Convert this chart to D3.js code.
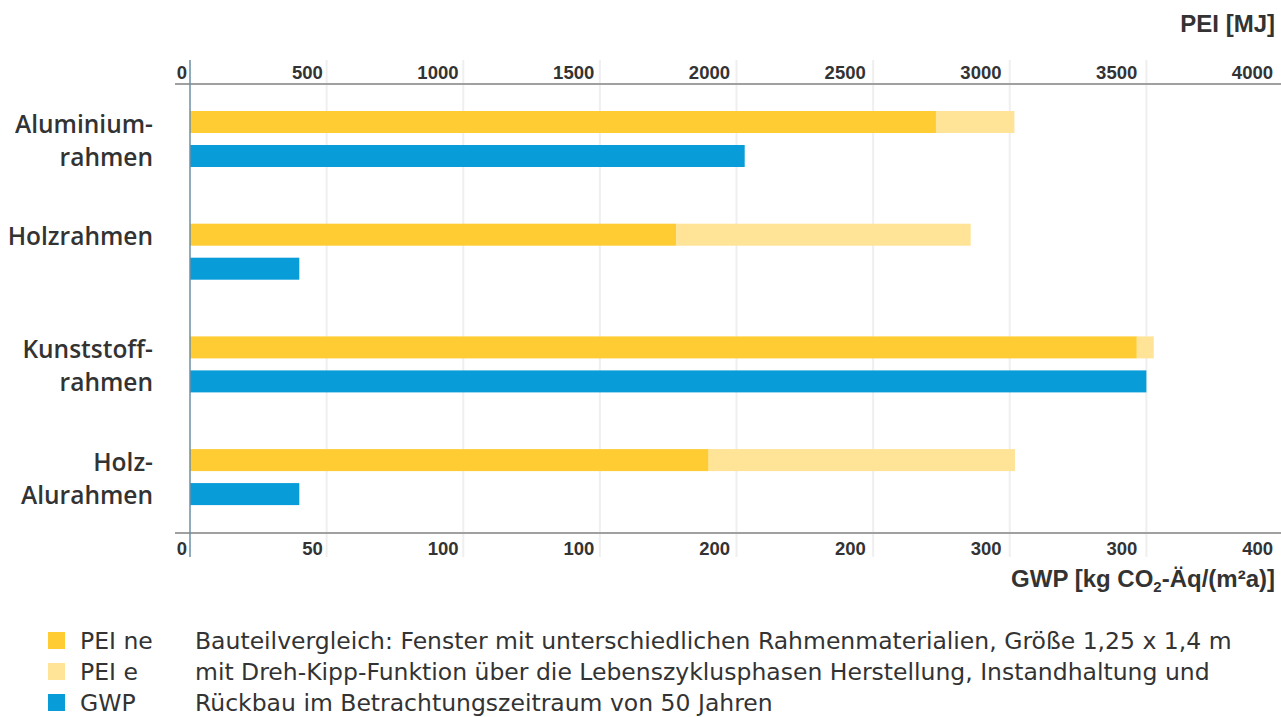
<!DOCTYPE html>
<html>
<head>
<meta charset="utf-8">
<script src="https://cdn.jsdelivr.net/npm/d3@7"></script>
<style>
  html, body { margin: 0; padding: 0; background: #fff; }
  svg { display: block; }
  text { font-family: "Open Sans", "Liberation Sans", Arial, sans-serif; fill: #333; }
  text.desc { font-family: "DejaVu Sans", "Open Sans", sans-serif; }
  text.num { font-family: "Liberation Sans", Arial, sans-serif; font-weight: bold; }
</style>
</head>
<body>
<svg id="chart" width="1281" height="717"></svg>
<script>
// ---- data ----
const categories = ["Aluminiumrahmen", "Holzrahmen", "Kunststoffrahmen", "Holz-Alurahmen"];
const categoryLines = [["Aluminium-", "rahmen"], ["Holzrahmen"], ["Kunststoff-", "rahmen"], ["Holz-", "Alurahmen"]];
const peiNe = [2730, 1780, 3465, 1898];   // MJ, non-renewable
const peiE  = [287, 1077, 62, 1121];      // MJ, renewable
const gwp   = [203, 40, 350, 40];         // kg CO2-Äq/(m²a)
const peiTicks = [0, 500, 1000, 1500, 2000, 2500, 3000, 3500, 4000];
const gwpTickLabels = ["0", "50", "100", "100", "200", "200", "300", "300", "400"];
const legendItems = ["PEI ne", "PEI e", "GWP"];
const descriptionLines = [
  "Bauteilvergleich: Fenster mit unterschiedlichen Rahmenmaterialien, Größe 1,25 x 1,4 m",
  "mit Dreh-Kipp-Funktion über die Lebenszyklusphasen Herstellung, Instandhaltung und",
  "Rückbau im Betrachtungszeitraum von 50 Jahren"
];

// ---- styles ----
const colNe = "#ffcc33", colE = "#ffe396", colGwp = "#089cd8";
const legendColors = [colNe, colE, colGwp];

const svg = d3.select("#chart");

const x0 = 190, x1 = 1283;
const xPei = d3.scaleLinear().domain([0, 4000]).range([x0, x1]);
const xGwp = d3.scaleLinear().domain([0, 400]).range([x0, x1]);
const xLab = d3.scaleLinear().domain([0, 4000]).range([187, 1273]);

const yCat = d3.scaleBand().domain(categories).range([111, 505.1]).paddingInner(0.503).paddingOuter(0);
const ySub = d3.scaleBand().domain(["pei", "gwp"]).range([0, 56]).paddingInner(12 / 34).paddingOuter(0);

// gridlines
svg.append("g").selectAll("line").data(peiTicks.slice(1)).join("line")
  .attr("x1", d => xPei(d)).attr("x2", d => xPei(d))
  .attr("y1", 60).attr("y2", 557)
  .attr("stroke", "#efefef").attr("stroke-width", 2);

// horizontal axis lines
svg.append("line").attr("x1", 175).attr("x2", 1281).attr("y1", 84).attr("y2", 84)
  .attr("stroke", "#a0a0a0").attr("stroke-width", 2);
svg.append("line").attr("x1", 175).attr("x2", 1281).attr("y1", 533).attr("y2", 533)
  .attr("stroke", "#a0a0a0").attr("stroke-width", 2);

// bars
const g = svg.append("g");
categories.forEach((c, i) => {
  const yb = yCat(c);
  g.append("rect").attr("x", xPei(0)).attr("y", yb + ySub("pei"))
    .attr("width", xPei(peiNe[i]) - xPei(0)).attr("height", ySub.bandwidth()).attr("fill", colNe);
  g.append("rect").attr("x", xPei(peiNe[i])).attr("y", yb + ySub("pei"))
    .attr("width", xPei(peiNe[i] + peiE[i]) - xPei(peiNe[i])).attr("height", ySub.bandwidth()).attr("fill", colE);
  g.append("rect").attr("x", xGwp(0)).attr("y", yb + ySub("gwp"))
    .attr("width", xGwp(gwp[i]) - xGwp(0)).attr("height", ySub.bandwidth()).attr("fill", colGwp);
});

// vertical axis line
svg.append("line").attr("x1", x0).attr("x2", x0).attr("y1", 60).attr("y2", 557)
  .attr("stroke", "#6b8fa6").attr("stroke-width", 1.5);

// category labels
categories.forEach((c, i) => {
  const yb = yCat(c);
  categoryLines[i].forEach((ln, k) => {
    svg.append("text").attr("x", 153).attr("y", yb + ySub.bandwidth() - 0.5 + k * 33)
      .attr("text-anchor", "end").attr("font-size", 24.5).attr("font-weight", 600)
      .text(ln);
  });
});

// top tick labels
svg.append("g").selectAll("text").data(peiTicks).join("text").attr("class", "num")
  .attr("x", d => xLab(d)).attr("y", 79).attr("text-anchor", "end")
  .attr("font-size", 18.5).text(d => d);

// bottom tick labels
svg.append("g").selectAll("text").data(gwpTickLabels).join("text").attr("class", "num")
  .attr("x", (d, i) => xLab(peiTicks[i])).attr("y", 555).attr("text-anchor", "end")
  .attr("font-size", 18.5).text(d => d);

// axis titles
svg.append("text").attr("class", "num").attr("x", 1275).attr("y", 32).attr("text-anchor", "end")
  .attr("font-size", 24).text("PEI [MJ]");
const gt = svg.append("text").attr("class", "num").attr("x", 1275).attr("y", 587).attr("text-anchor", "end")
  .attr("font-size", 24);
gt.append("tspan").text("GWP [kg CO");
gt.append("tspan").attr("font-size", 15).attr("dy", 5).text("2");
gt.append("tspan").attr("dy", -5).text("-Äq/(m²a)]");

// legend
legendItems.forEach((t, i) => {
  const yBase = 649 + i * 31;
  svg.append("rect").attr("x", 48).attr("y", yBase - 17).attr("width", 17).attr("height", 17)
    .attr("fill", legendColors[i]);
  svg.append("text").attr("class", "desc").attr("x", 80).attr("y", yBase).attr("font-size", 23.5).text(t);
  svg.append("text").attr("class", "desc").attr("x", 195).attr("y", yBase).attr("font-size", 23.5).text(descriptionLines[i]);
});
</script>
</body>
</html>
